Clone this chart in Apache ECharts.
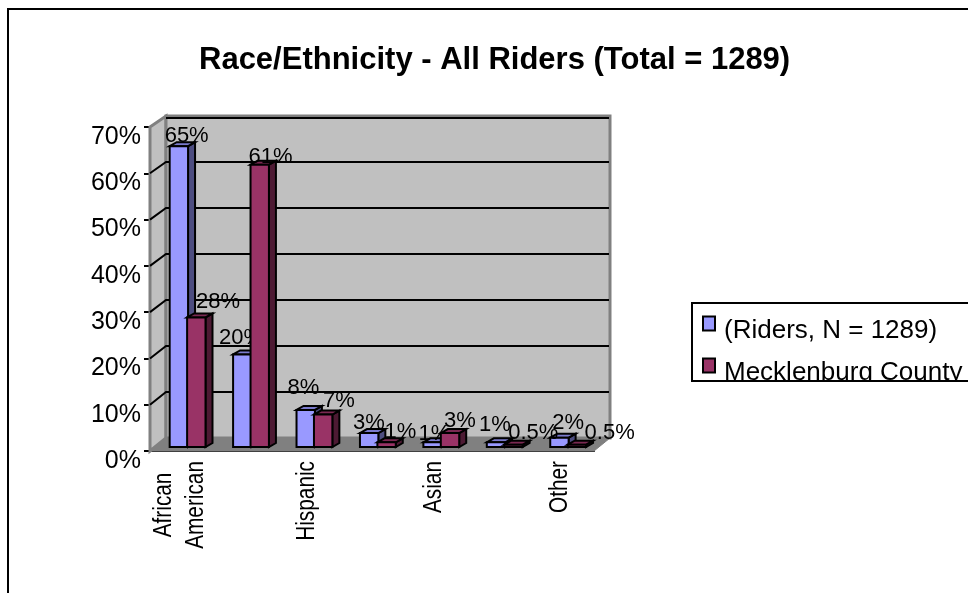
<!DOCTYPE html>
<html>
<head>
<meta charset="utf-8">
<style>html,body{margin:0;padding:0;background:#fff}#chart{width:968px;height:593px}</style>
<script src="https://cdn.jsdelivr.net/npm/echarts@6/dist/echarts.min.js"></script>
</head>
<body>
<div id="chart"></div>
<script>
// Categories whose names the axis skips stay blank.
const categories = ['African\nAmerican', '', 'Hispanic', '', 'Asian', '', 'Other'];
const riders = [65, 20, 8, 3, 1, 1, 2];
const county = [28, 61, 7, 1, 3, 0.5, 0.5];
const yTicks = [0, 10, 20, 30, 40, 50, 60, 70];

// Label placement relative to the top-left of each bar's front face.
const ridersLabelShift = [[17, -10], [8, -16], [7, -22], [9, -10], [11, -8], [8, -17], [18, -15]];
const countyLabelShift = [[31, -15], [20, -8], [25, -14], [23, -10], [19, -12], [29, -12], [42, -12]];

const FONT = '"Liberation Sans", Arial, sans-serif';
const DEPTH_X = 16;
const BAR_DX = 7, BAR_DY = 4, FLOOR_LIFT = 4;

const backY = (y, v) => y - 13 + 2 * v / 70;

function renderWalls(params, api) {
  const cs = params.coordSys;
  const x0 = cs.x, x1 = cs.x + cs.width;
  const f0 = api.coord([0, 0])[1], f70 = api.coord([0, 70])[1];
  const b0 = backY(f0, 0), b70 = backY(f70, 70);
  const bx0 = x0 + DEPTH_X, bx1 = x1 + DEPTH_X;
  const wallEdge = { stroke: '#808080', lineWidth: 3 };
  const children = [
    { type: 'polygon', shape: { points: [[x0, f70], [bx0, b70], [bx0, b0], [x0, f0]] },
      style: { fill: '#c0c0c0', ...wallEdge } },
    { type: 'rect', shape: { x: bx0, y: b70, width: bx1 - bx0, height: b0 - b70 },
      style: { fill: '#c0c0c0', ...wallEdge } },
    { type: 'polygon', shape: { points: [[x0, f0], [bx0, b0], [bx1, b0], [x1, f0]] },
      style: { fill: '#808080', stroke: '#808080', lineWidth: 1 } }
  ];
  yTicks.slice(1).forEach(v => {
    const fy = api.coord([0, v])[1], by = backY(fy, v);
    // The top gridline only runs along the back wall, inside its edge.
    const points = v === 70
      ? [[bx0, by + 2], [bx1 - 1, by + 2]]
      : [[x0, fy], [bx0, by], [bx1 - 1, by]];
    children.push({ type: 'polyline', shape: { points },
      style: { fill: null, stroke: '#000', lineWidth: 2 } });
  });
  return { type: 'group', children };
}

// Rotated category names, squeezed along their length.
function renderCategoryNames(params, api) {
  const axisY = api.coord([0, 0])[1];
  const children = categories.map((name, i) => ({
    type: 'text',
    x: api.coord([i, 0])[0] - 2,
    y: axisY + 10,
    rotation: Math.PI / 2,
    scaleX: 0.8,
    style: {
      text: name.split('\n').map(p => '{c|' + p + '}').join('\n'),
      align: 'right', verticalAlign: 'middle',
      rich: { c: { font: '26px ' + FONT, lineHeight: 32, align: 'center', fill: '#000' } }
    }
  }));
  return { type: 'group', children };
}

function barRenderer(values, shifts, faceOffset, front, top, side) {
  return function (params, api) {
    const i = params.dataIndex;
    const band = api.size([1, 0])[0];
    const base = api.coord([i, 0]);
    const head = api.coord([i, values[i]]);
    const w = band * 0.29;
    const x = base[0] + band * faceOffset;
    const yB = base[1] - FLOOR_LIFT, yT = head[1] - FLOOR_LIFT;
    const edge = { stroke: '#000', lineWidth: 2, lineJoin: 'miter' };
    return {
      type: 'group',
      children: [
        { type: 'polygon', shape: { points: [[x + w, yT], [x + w + BAR_DX, yT - BAR_DY], [x + w + BAR_DX, yB - BAR_DY], [x + w, yB]] },
          style: { fill: side, ...edge } },
        { type: 'polygon', shape: { points: [[x, yT], [x + BAR_DX, yT - BAR_DY], [x + w + BAR_DX, yT - BAR_DY], [x + w, yT]] },
          style: { fill: top, ...edge } },
        { type: 'rect', shape: { x, y: yT, width: w, height: yB - yT },
          style: { fill: front, ...edge } },
        { type: 'text', z2: 100,
          style: { x: x + shifts[i][0], y: yT + shifts[i][1], text: values[i] + '%',
            font: '22px ' + FONT, fill: '#000', align: 'center', verticalAlign: 'middle' } }
      ]
    };
  };
}

const chart = echarts.init(document.getElementById('chart'), null, { renderer: 'canvas' });
chart.setOption({
  animation: false,
  backgroundColor: '#ffffff',
  title: {
    text: 'Race/Ethnicity - All Riders (Total = 1289)',
    left: 199, top: 45, padding: 0,
    textStyle: { fontFamily: FONT, fontSize: 31, fontWeight: 'bold', color: '#000' }
  },
  legend: {
    orient: 'vertical', left: 692, top: 303,
    padding: [0, 120, 0, 10], itemGap: 1, itemWidth: 12, itemHeight: 14,
    icon: 'rect', align: 'left',
    backgroundColor: '#fff', borderColor: '#000', borderWidth: 2, borderRadius: 0,
    data: ['(Riders, N = 1289)', 'Mecklenburg County'],
    itemStyle: { borderColor: '#000', borderWidth: 2 },
    formatter: n => '{t|' + n + '}',
    textStyle: { rich: { t: { fontFamily: FONT, fontSize: 26, lineHeight: 24, color: '#000', padding: [15, 0, 0, 4] } } }
  },
  grid: { left: 150, top: 127, width: 444, height: 324 },
  xAxis: {
    type: 'category', data: categories, boundaryGap: true,
    axisLine: { lineStyle: { color: '#000', width: 2 } },
    axisTick: { length: 6, lineStyle: { color: '#000', width: 2 } },
    splitLine: { show: false },
    axisLabel: { show: false }
  },
  yAxis: {
    type: 'value', min: 0, max: 70, interval: 10,
    axisLine: { show: true, lineStyle: { color: '#000', width: 2 } },
    axisTick: { show: true, length: 6, lineStyle: { color: '#000', width: 2 } },
    splitLine: { show: false },
    axisLabel: {
      formatter: v => '{v|' + v + '%}', margin: 9,
      rich: { v: { fontFamily: FONT, fontSize: 25, color: '#000', padding: [20, 0, 0, 0] } }
    }
  },
  series: [
    { type: 'custom', name: 'walls', silent: true, clip: false, z: 1,
      renderItem: renderWalls, data: [[0, 0]], encode: { x: 0, y: 1 } },
    { type: 'custom', name: 'category names', silent: true, clip: false, z: 2,
      renderItem: renderCategoryNames, data: [[0, 0]], encode: { x: 0, y: 1 } },
    { type: 'custom', name: '(Riders, N = 1289)', clip: false, z: 3,
      itemStyle: { color: '#9999ff' },
      renderItem: barRenderer(riders, ridersLabelShift, -0.19, '#9999ff', '#7a7acc', '#4d4d80'),
      data: riders.map((v, i) => [i, v]), encode: { x: 0, y: 1 } },
    { type: 'custom', name: 'Mecklenburg County', clip: false, z: 4,
      itemStyle: { color: '#993366' },
      renderItem: barRenderer(county, countyLabelShift, 0.085, '#993366', '#7a2952', '#4d1a33'),
      data: county.map((v, i) => [i, v]), encode: { x: 0, y: 1 } }
  ],
  graphic: [
    // Outer frame: only its top and left edges fall inside the window.
    { type: 'polyline', z: 20, shape: { points: [[8, 593], [8, 9], [968, 9]] },
      style: { fill: null, stroke: '#000', lineWidth: 2 } },
    // The legend's lower edge trims the descenders of its last row.
    { type: 'rect', z: 20, shape: { x: 680, y: 382, width: 288, height: 8 }, style: { fill: '#fff' } },
    { type: 'line', z: 20, shape: { x1: 692, y1: 381, x2: 968, y2: 381 }, style: { stroke: '#000', lineWidth: 2 } }
  ]
});
</script>
</body>
</html>
